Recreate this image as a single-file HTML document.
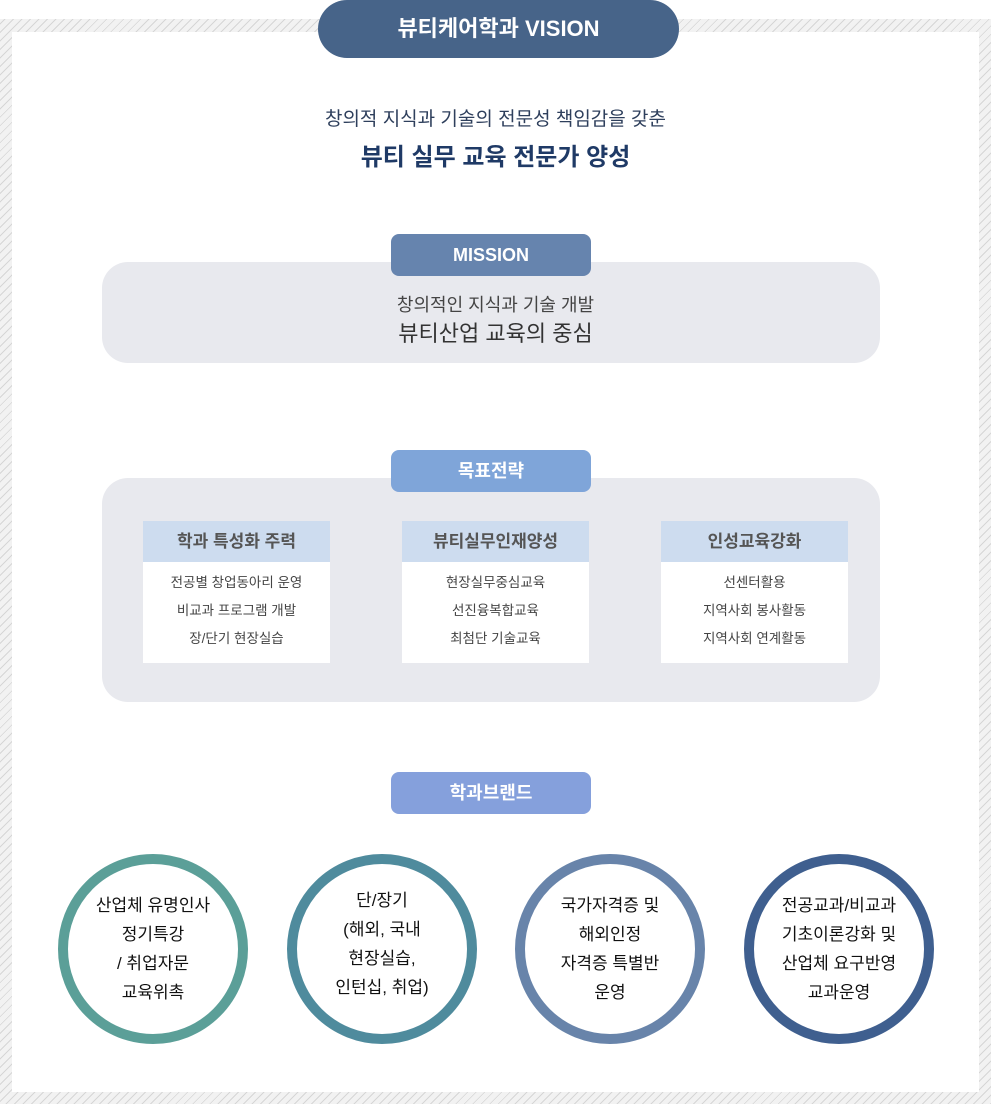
<!DOCTYPE html>
<html><head><meta charset="utf-8"><style>
*{margin:0;padding:0;box-sizing:border-box}
body{width:991px;height:1104px;position:relative;background:#fff;font-family:"Liberation Sans","Noto Sans CJK KR",sans-serif;overflow:hidden}
.hatch{position:absolute;left:0;top:19px;width:991px;height:1085px;background:repeating-linear-gradient(135deg,#f2f2f2 0 3px,#d6d6d6 3px 4px,#f2f2f2 4px 6px)}
.inner{position:absolute;left:12px;top:32px;width:967px;height:1060px;background:#fff}
.abs{position:absolute}
.c{text-align:center}
.vision{left:318px;top:0;width:361px;height:58px;border-radius:29px;background:#476489;color:#fff;font-size:22px;font-weight:bold;line-height:58px}
.pill{left:391px;width:200px;height:42px;border-radius:8px;color:#fff;font-size:18px;font-weight:bold;line-height:42px}
.panel{left:102px;width:778px;background:#e8e9ee;border-radius:26px}
.card{width:187px;height:142px;background:#fff}
.card h3{background:#cddcef;height:41px;line-height:41px;font-size:17px;color:#555;text-align:center;font-weight:bold}
.card p{font-size:13.5px;color:#444;text-align:center;line-height:28px}
.card .b{padding-top:7px}
.circ{width:190px;height:190px;border-radius:50%;border:10px solid;top:854px;display:flex;align-items:center;justify-content:center;text-align:center;font-size:17px;line-height:29px;color:#111}
</style></head><body>
<div class="hatch"></div><div class="inner"></div>
<div class="abs c vision">뷰티케어학과 VISION</div>
<div class="abs c" style="left:0;width:991px;top:104px;font-size:19px;color:#2e3f5c">창의적 지식과 기술의 전문성 책임감을 갖춘</div>
<div class="abs c" style="left:0;width:991px;top:137px;font-size:24px;font-weight:bold;color:#1f3a66">뷰티 실무 교육 전문가 양성</div>

<div class="abs panel" style="top:262px;height:101px"></div>
<div class="abs c pill" style="top:234px;background:#6684ae">MISSION</div>
<div class="abs c" style="left:0;width:991px;top:291px;font-size:18px;color:#444">창의적인 지식과 기술 개발</div>
<div class="abs c" style="left:0;width:991px;top:316px;font-size:22px;color:#333">뷰티산업 교육의 중심</div>

<div class="abs panel" style="top:478px;height:224px"></div>
<div class="abs c pill" style="top:450px;background:#7fa5d9">목표전략</div>
<div class="abs card" style="left:143px;top:521px"><h3>학과 특성화 주력</h3><div class="b"><p>전공별 창업동아리 운영</p><p>비교과 프로그램 개발</p><p>장/단기 현장실습</p></div></div>
<div class="abs card" style="left:402px;top:521px"><h3>뷰티실무인재양성</h3><div class="b"><p>현장실무중심교육</p><p>선진융복합교육</p><p>최첨단 기술교육</p></div></div>
<div class="abs card" style="left:661px;top:521px"><h3>인성교육강화</h3><div class="b"><p>선센터활용</p><p>지역사회 봉사활동</p><p>지역사회 연계활동</p></div></div>

<div class="abs c pill" style="top:772px;background:#85a0dc">학과브랜드</div>
<div class="abs circ" style="left:58px;border-color:#5b9f98">산업체 유명인사<br>정기특강<br>/ 취업자문<br>교육위촉</div>
<div class="abs circ" style="left:287px;border-color:#4f8b9d"><div style="margin-top:-10px">단/장기<br>(해외, 국내<br>현장실습,<br>인턴십, 취업)</div></div>
<div class="abs circ" style="left:515px;border-color:#6884aa">국가자격증 및<br>해외인정<br>자격증 특별반<br>운영</div>
<div class="abs circ" style="left:744px;border-color:#3f5f8f">전공교과/비교과<br>기초이론강화 및<br>산업체 요구반영<br>교과운영</div>
</body></html>
